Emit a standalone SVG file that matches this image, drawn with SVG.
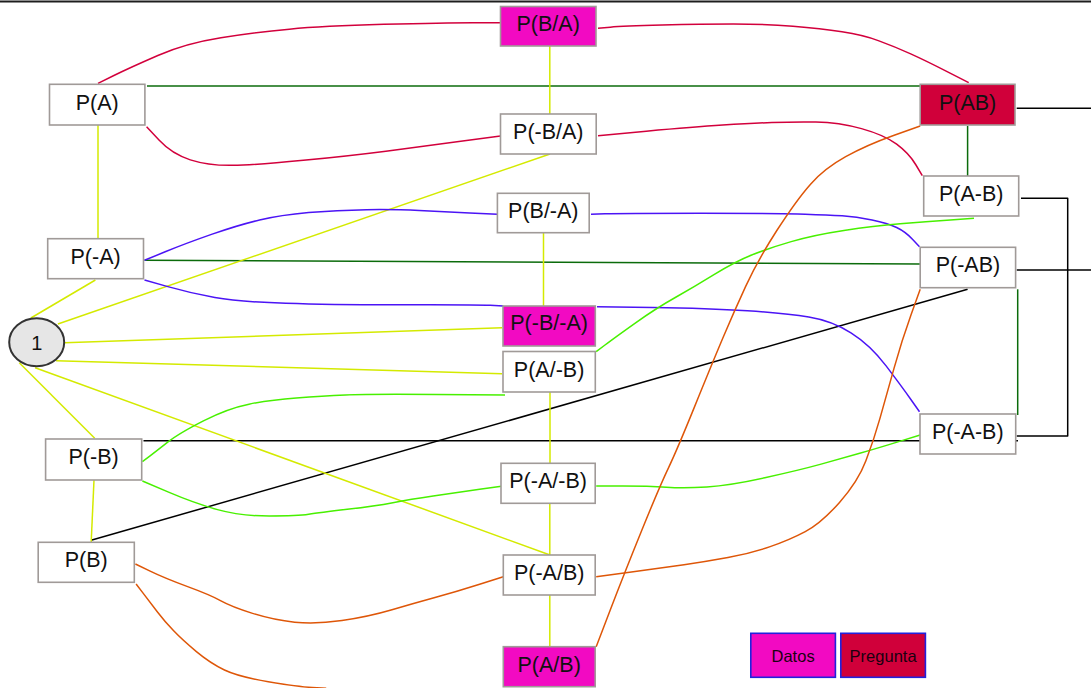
<svg xmlns="http://www.w3.org/2000/svg" width="1091" height="688" viewBox="0 0 1091 688">
  <style>
    .node rect { fill: #ffffff; stroke: #a09a98; stroke-width: 1.6; }
    .node.dato rect { fill: #f20ac2; }
    .node.preg rect { fill: #d0003a; }
    .node text { font-family: "Liberation Sans", Arial, sans-serif; font-size: 21.5px; fill: #111; text-anchor: middle; }
    .legend rect { stroke: #2222dd; stroke-width: 1.6; }
    .legend text { font-family: "Liberation Sans", Arial, sans-serif; font-size: 16.5px; fill: #1a0010; text-anchor: middle; }
    .edges path { fill: none; stroke-width: 1.5; stroke-linejoin: round; stroke-linecap: butt; }
    .red { stroke: #d2003c; }
    .blue { stroke: #4b14f5; }
    .lime { stroke: #48f000; }
    .orange { stroke: #de5608; }
    .dgreen { stroke: #0b6b0b; }
    .yellow { stroke: #d4ea00; }
    .black { stroke: #000000; }
  </style>

  <rect x="0" y="0" width="1091" height="688" fill="#ffffff"/>
  <!-- top rule -->
  <line x1="0" y1="1.5" x2="1091" y2="1.5" stroke="#1e1e1e" stroke-width="2"/>

  <g id="connectors" class="edges">
    <!-- black links -->
    <path class="black" d="M143.5,440.7 L1018,440.7"/>
    <path class="black" d="M91.9,540 L967.6,289.3"/>
    <path class="black" d="M1016.7,108.3 L1091,108.3"/>
    <path class="black" d="M1016.7,270 L1091,270"/>
    <path class="black" d="M1021,198.3 L1067.7,198.3 L1067.7,436 L1016.7,436"/>

    <!-- dark green links -->
    <path class="dgreen" d="M147,86 L920,86"/>
    <path class="dgreen" d="M144.5,260.3 L920.2,264"/>
    <path class="dgreen" d="M967.6,126 L967.6,176"/>
    <path class="dgreen" d="M1017.7,289.3 L1017.7,415"/>

    <!-- yellow links -->
    <path class="yellow" d="M98,125 L98,238.7"/>
    <path class="yellow" d="M549.8,46 L549.8,114"/>
    <path class="yellow" d="M543.5,232.7 L543.5,306.7"/>
    <path class="yellow" d="M550,392 L550,463"/>
    <path class="yellow" d="M549.8,503.3 L549.8,555"/>
    <path class="yellow" d="M549.8,595 L549.8,646.7"/>
    <path class="yellow" d="M94,480 L91.2,542"/>
    <path class="yellow" d="M30.9,318 L95.4,280"/>
    <path class="yellow" d="M57.9,324 L550,154"/>
    <path class="yellow" d="M64.5,342.7 L502,327.7"/>
    <path class="yellow" d="M56.1,360.7 L502,373.7"/>
    <path class="yellow" d="M19.3,362.7 L94.7,438.3"/>
    <path class="yellow" d="M35.1,367.7 L550,555"/>

    <!-- red links -->
    <path class="red" d="M98,83.3 L113.9,75.5 Q129.8,67.7 157.85,55.5 Q185.9,43.3 220.95,37.8 Q256,32.3 289.35,29.15 Q322.7,26 383.85,24.35 Q445,22.7 472.75,22.7 L500.5,22.7"/>
    <path class="red" d="M146.6,126.7 L159.25,140.35 Q171.9,154 190.3,159.85 Q208.7,165.7 232.35,165.35 Q256,165 303.4,160.35 Q350.8,155.7 385.9,151.2 Q421,146.7 460.75,141.35 L500.5,136"/>
    <path class="red" d="M598,28.3 L610.3,27.15 Q622.6,26 662.1,25 Q701.6,24 733.25,24 Q764.9,24 792.95,26.35 Q821,28.7 842,31.85 Q863,35 878.95,40.85 Q894.9,46.7 910.7,53.85 Q926.5,61 947.6,71.85 L968.7,82.7"/>
    <path class="red" d="M598,135.7 L646.3,131.2 Q694.6,126.7 722.7,125 Q750.8,123.3 771.9,122.5 Q793,121.7 815.85,122 Q838.7,122.3 861.5,128.65 Q884.3,135 896.65,144.15 Q909,153.3 915.65,164.5 L922.3,175.7"/>

    <!-- blue links -->
    <path class="blue" d="M144.5,260.3 L165.2,251.8 Q185.9,243.3 212.2,234.15 Q238.5,225 259.55,220 Q280.6,215 308.65,212.5 Q336.7,210 366.55,209.65 Q396.4,209.3 419.2,210.5 Q442,211.7 469.7,213 L497.4,214.3"/>
    <path class="blue" d="M591,214.3 L605,213.8 Q619,213.3 700.7,213.3 Q782.4,213.3 805.2,214.15 Q828,215 842.1,215.85 Q856.2,216.7 872.05,220 Q887.9,223.3 896.65,227.5 Q905.4,231.7 912.45,239.2 L919.5,246.7"/>
    <path class="blue" d="M144.5,280 L167.85,286.65 Q191.2,293.3 214.85,297.5 Q238.5,301.7 285.85,303.35 Q333.2,305 405.1,304.85 Q477,304.7 490.15,305.35 L503.3,306"/>
    <path class="blue" d="M597,306.7 L652.85,307.5 Q708.7,308.3 747.35,310.8 Q786,313.3 808.8,317 Q831.6,320.7 850.95,332.85 Q870.3,345 886.1,365.85 Q901.9,386.7 910.7,399.2 L919.5,411.7"/>

    <!-- lime links -->
    <path class="lime" d="M142.4,461.7 L150.1,455.85 Q157.8,450 168.35,441.65 Q178.9,433.3 203.45,420.8 Q228,408.3 249,404.15 Q270,400 296.35,398 Q322.7,396 345.5,395 Q368.3,394 436.65,394.5 L505,395"/>
    <path class="lime" d="M596.2,351.7 L605,345 Q613.8,338.3 634.9,323.3 Q656,308.3 675.3,297.5 Q694.6,286.7 714.8,274.2 Q735,261.7 751.7,255 Q768.4,248.3 791.2,241.65 Q814,235 843.9,230.5 Q873.8,226 900.15,223.85 Q926.5,221.7 950.25,220 L974,218.3"/>
    <path class="lime" d="M142.4,481 L168.55,492.15 Q194.7,503.3 217.5,509.65 Q240.3,516 269.2,516 Q298.1,516 308.65,514.35 Q319.2,512.7 347.25,509.35 Q375.3,506 392.85,502.65 Q410.4,499.3 433.2,496 Q456,492.7 479.65,489.35 L503.3,486"/>
    <path class="lime" d="M596.2,486 L622.6,486 Q649,486 666.5,487.15 Q684,488.3 706.85,486.9 Q729.7,485.5 764.85,477.75 Q800,470 821.1,464.15 Q842.2,458.3 859.75,453.3 Q877.3,448.3 898.75,441.65 L920.2,435"/>

    <!-- orange links -->
    <path class="orange" d="M920.2,126 L893.5,135.5 Q866.8,145 845.7,156.65 Q824.6,168.3 810.55,184.15 Q796.5,200 777.15,230 Q757.8,260 745.55,286.65 Q733.3,313.3 722.75,338.3 Q712.2,363.3 694.6,406.65 Q677,450 668.25,468.35 Q659.5,486.7 641.9,530 Q624.3,573.3 610.25,610 L596.2,646.7"/>
    <path class="orange" d="M920.2,289.3 L911.05,314.65 Q901.9,340 894,368.35 Q886.1,396.7 879.95,418.35 Q873.8,440 865.9,460.85 Q858,481.7 839.5,502.5 Q821,523.3 805.25,531.65 Q789.5,540 770.15,546.65 Q750.8,553.3 727.95,557.5 Q705.1,561.7 684.05,564.7 Q663,567.7 629.6,572.2 L596.2,576.7"/>
    <path class="orange" d="M135.4,564 L150.15,571.15 Q164.9,578.3 187.65,586.65 Q210.4,595 220.95,600.85 Q231.5,606.7 252.55,613.35 Q273.6,620 294.65,622.15 Q315.7,624.3 342,620.5 Q368.3,616.7 391.1,610 Q413.9,603.3 434.95,597.5 Q456,591.7 479.65,584.2 L503.3,576.7"/>
    <path class="orange" d="M136.1,584 L143.45,593.65 Q150.8,603.3 157.85,612.5 Q164.9,621.7 173.65,630.85 Q182.4,640 196.4,651.65 Q210.4,663.3 224.45,670 Q238.5,676.7 268.3,681.7 Q298.1,686.7 312.15,687.5 L326.2,688.3"/>
  </g>

  <!-- root node -->
  <g id="n-uno">
    <ellipse cx="36.7" cy="342.3" rx="27.5" ry="24" fill="#e6e6e6" stroke="#333333" stroke-width="2"/>
    <text x="36.7" y="349.5" font-family="Liberation Sans, Arial, sans-serif" font-size="20" fill="#111" text-anchor="middle">1</text>
  </g>

  <g id="n-BdA" class="node dato"><rect x="500.5" y="6.5" width="95.5" height="39.5"/><text x="548.2" y="31">P(B/A)</text></g>
  <g id="n-A" class="node"><rect x="49.5" y="84.3" width="95.4" height="40.7"/><text x="97.2" y="109.5">P(A)</text></g>
  <g id="n-nBdA" class="node"><rect x="500.5" y="114" width="95.7" height="40"/><text x="548.3" y="139">P(-B/A)</text></g>
  <g id="n-AB" class="node preg"><rect x="920.2" y="84.3" width="94.8" height="40.7"/><text x="967.6" y="109.5">P(AB)</text></g>
  <g id="n-AnB" class="node"><rect x="923.7" y="176" width="95" height="40"/><text x="971.2" y="201">P(A-B)</text></g>
  <g id="n-BdnA" class="node"><rect x="497.4" y="193.3" width="91.8" height="39.4"/><text x="543.3" y="218">P(B/-A)</text></g>
  <g id="n-nA" class="node"><rect x="47.7" y="238.7" width="95.8" height="40"/><text x="95.6" y="263.5">P(-A)</text></g>
  <g id="n-nAB" class="node"><rect x="920.2" y="247.3" width="95.4" height="40.4"/><text x="967.9" y="272">P(-AB)</text></g>
  <g id="n-nBdnA" class="node dato"><rect x="503" y="306" width="92.3" height="40"/><text x="549.1" y="330">P(-B/-A)</text></g>
  <g id="n-AdnB" class="node"><rect x="503" y="351.5" width="92.3" height="40.5"/><text x="549.1" y="376.5">P(A/-B)</text></g>
  <g id="n-nB" class="node"><rect x="45.6" y="439" width="96.1" height="41"/><text x="93.6" y="464">P(-B)</text></g>
  <g id="n-nAnB" class="node"><rect x="920" y="414" width="95.7" height="40"/><text x="967.8" y="439">P(-A-B)</text></g>
  <g id="n-nAdnB" class="node"><rect x="501" y="463.3" width="94.2" height="40"/><text x="548.1" y="488">P(-A/-B)</text></g>
  <g id="n-B" class="node"><rect x="38.2" y="542.3" width="96.1" height="40"/><text x="86.2" y="567">P(B)</text></g>
  <g id="n-nAdB" class="node"><rect x="503.3" y="555" width="91.9" height="40"/><text x="549.2" y="580">P(-A/B)</text></g>
  <g id="n-AdB" class="node dato"><rect x="503.3" y="646.7" width="91.9" height="40"/><text x="549.2" y="671.5">P(A/B)</text></g>

  <!-- key -->
  <g id="legend-datos" class="legend">
    <rect x="750.8" y="633.3" width="84.6" height="44" fill="#f20ac2"/>
    <text x="793.1" y="661.5">Datos</text>
  </g>
  <g id="legend-pregunta" class="legend">
    <rect x="840.8" y="633.3" width="84.6" height="44" fill="#d0003a"/>
    <text x="883.1" y="661.5">Pregunta</text>
  </g>
</svg>
